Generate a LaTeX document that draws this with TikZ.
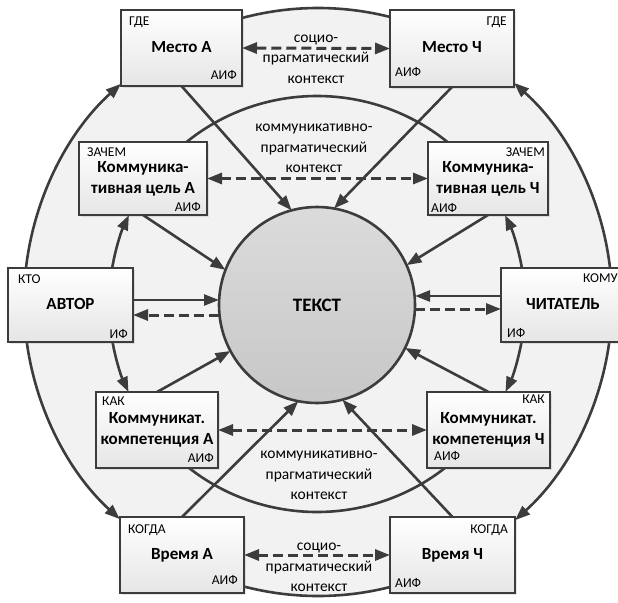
\documentclass[tikz,border=0pt]{standalone}
\usepackage{fontspec}
\setmainfont{Carlito}
\usetikzlibrary{arrows.meta,shadows}
\definecolor{dg}{HTML}{3C3C3C}
\begin{document}
\begin{tikzpicture}[x=1pt,y=1pt,
  box/.style={draw=dg, line width=2.8pt, rectangle, top color=white, bottom color=black!10,
    inner sep=0pt, outer sep=0pt, font=\fontsize{17}{21}\selectfont\bfseries, align=center,
    drop shadow={opacity=0.2, shadow xshift=1.5pt, shadow yshift=-1.5pt}},
  small/.style={font=\fontsize{13.5}{15}\selectfont, inner sep=0pt},
  ctx/.style={font=\fontsize{15.5}{20.5}\selectfont, align=center, inner sep=0pt, anchor=north},
  ring/.style={draw=dg, line width=2.6pt},
  arr/.style={draw=dg, line width=2.6pt, -{Triangle[length=15pt,width=11pt]}},
  darr/.style={draw=dg, line width=3pt, dash pattern=on 10pt off 5pt,
    {Triangle[length=15pt,width=11pt]}-{Triangle[length=15pt,width=11pt]}},
  dsarr/.style={draw=dg, line width=3pt, dash pattern=on 10pt off 5pt,
    -{Triangle[length=15pt,width=11pt]}},
]
\useasboundingbox (0,0) rectangle (618,-602);
% rings
\node[circle, fill=black!5, minimum size=588pt, inner sep=0pt, outer sep=0pt] (outer) at (318,-302) {};
\node[circle, minimum size=416pt, inner sep=0pt, outer sep=0pt] (mid) at (317,-304) {};

% outer ring arcs
\draw[ring] ([shift={(106:294pt)}]outer.center) arc[start angle=106, end angle=74, radius=294pt];
\draw[ring] ([shift={(254:294pt)}]outer.center) arc[start angle=254, end angle=286, radius=294pt];
\draw[arr] ([shift={(174:294pt)}]outer.center) arc[start angle=174, end angle=132.1, radius=294pt];
\draw[arr] ([shift={(186.5:294pt)}]outer.center) arc[start angle=186.5, end angle=227.6, radius=294pt];
\draw[arr] ([shift={(6:294pt)}]outer.center) arc[start angle=6, end angle=48.2, radius=294pt];
\draw[arr] ([shift={(-6:294pt)}]outer.center) arc[start angle=-6, end angle=-47.9, radius=294pt];

% middle ring arcs
\draw[ring] ([shift={(130:208pt)}]mid.center) arc[start angle=130, end angle=50, radius=208pt];
\draw[ring] ([shift={(230:208pt)}]mid.center) arc[start angle=230, end angle=310, radius=208pt];
\draw[arr] ([shift={(171:208pt)}]mid.center) arc[start angle=171, end angle=154.7, radius=208pt];
\draw[arr] ([shift={(189.5:208pt)}]mid.center) arc[start angle=189.5, end angle=205, radius=208pt];
\draw[arr] ([shift={(9:208pt)}]mid.center) arc[start angle=9, end angle=25.3, radius=208pt];
\draw[arr] ([shift={(-9:208pt)}]mid.center) arc[start angle=-9, end angle=-25, radius=208pt];

% boxes
\node[box, minimum width=121pt, minimum height=76pt] (mestoA) at (181.5,-48) {\strut Место А};
\node[box, minimum width=124pt, minimum height=77pt] (mestoCh) at (452,-48.5) {\strut Место Ч};
\node[box, minimum width=128pt, minimum height=73pt] (celA) at (143,-178.5) {\strut Коммуника-\\\strut тивная цель А};
\node[box, minimum width=120pt, minimum height=73pt] (celCh) at (488,-178.5) {\strut Коммуника-\\\strut тивная цель Ч};
\node[box, minimum width=125pt, minimum height=74pt] (avtor) at (70.5,-305) {\strut АВТОР};
\node[box, minimum width=124pt, minimum height=74pt] (chit) at (563,-305) {\strut ЧИТАТЕЛЬ};
\node[box, minimum width=122pt, minimum height=76pt] (kompA) at (157,-430) {\strut Коммуникат.\\\strut компетенция А};
\node[box, minimum width=123pt, minimum height=76pt] (kompCh) at (488.5,-430) {\strut Коммуникат.\\\strut компетенция Ч};
\node[box, minimum width=124pt, minimum height=76pt] (vremA) at (182,-555) {\strut Время А};
\node[box, minimum width=125pt, minimum height=76pt] (vremCh) at (452.5,-555) {\strut Время Ч};

% small labels
\node[small, anchor=base west] (qmA) at ([shift={(8,-15.5)}]mestoA.north west) {ГДЕ};
\node[small, anchor=base east] (smA) at ([shift={(-5,7)}]mestoA.south east) {АИФ};
\node[small, anchor=base west] (qcA) at ([shift={(8,-14.5)}]celA.north west) {ЗАЧЕМ};
\node[small, anchor=base east] (scA) at ([shift={(-6,3.5)}]celA.south east) {АИФ};
\node[small, anchor=base west] (qav) at ([shift={(10,-15)}]avtor.north west) {КТО};
\node[small, anchor=base east] (sav) at ([shift={(-5,3.5)}]avtor.south east) {ИФ};
\node[small, anchor=base west] (qkA) at ([shift={(6,-13)}]kompA.north west) {КАК};
\node[small, anchor=base east] (skA) at ([shift={(-4,5.5)}]kompA.south east) {АИФ};
\node[small, anchor=base west] (qvA) at ([shift={(8,-16)}]vremA.north west) {КОГДА};
\node[small, anchor=base east] (svA) at ([shift={(-6,8.5)}]vremA.south east) {АИФ};
\node[small, anchor=base east] (qmC) at ([shift={(-7,-16)}]mestoCh.north east) {ГДЕ};
\node[small, anchor=base west] (smC) at ([shift={(5,10)}]mestoCh.south west) {АИФ};
\node[small, anchor=base east] (qcC) at ([shift={(-3,-14.5)}]celCh.north east) {ЗАЧЕМ};
\node[small, anchor=base west] (scC) at ([shift={(3,2.5)}]celCh.south west) {АИФ};
\node[small, anchor=base west] (qch) at ([shift={(82,-14.5)}]chit.north west) {КОМУ};
\node[small, anchor=base west] (sch) at ([shift={(6,5)}]chit.south west) {ИФ};
\node[small, anchor=base east] (qkC) at ([shift={(-5,-11)}]kompCh.north east) {КАК};
\node[small, anchor=base west] (skC) at ([shift={(7,8)}]kompCh.south west) {АИФ};
\node[small, anchor=base east] (qvC) at ([shift={(-7,-16)}]vremCh.north east) {КОГДА};
\node[small, anchor=base west] (svC) at ([shift={(5,5.5)}]vremCh.south west) {АИФ};

% text circle
\node[circle, draw=dg, line width=2.6pt, top color=black!14, bottom color=black!22,
  minimum size=196pt, inner sep=0pt, outer sep=0pt,
  font=\fontsize{19}{21}\selectfont\bfseries] (tekst) at (317,-305) {ТЕКСТ};

% context labels
\node[ctx] (ctx1) at (316,-27.5) {\strut социо-\\прагматический\\контекст};
\node[ctx] (ctx2) at (314,-117) {\strut коммуникативно-\\прагматический\\контекст};
\node[ctx] (ctx3) at (319,-444) {\strut коммуникативно-\\прагматический\\контекст};
\node[ctx] (ctx4) at (319,-536) {\strut социо-\\прагматический\\контекст};

% arrows to text
\draw[arr] (mestoA.south) -- (tekst.105);
\draw[arr] (mestoCh.south) -- (tekst.80);
\draw[arr] (celA.south) -- (tekst.159);
\draw[arr] (celCh.south) -- (tekst.24);
\draw[arr] (kompA.north) -- (tekst.208);
\draw[arr] (kompCh.north) -- (tekst.334);
\draw[arr] (vremA.north) -- (tekst.259);
\draw[arr] (vremCh.north) -- (tekst.285);
\draw[arr] ([yshift=5pt]avtor.east) -- ([yshift=5pt]tekst.west);
\draw[dsarr] ([yshift=-10pt]tekst.west) -- ([yshift=-10pt]avtor.east);
\draw[arr] ([yshift=9pt]chit.west) -- ([yshift=9pt]tekst.east);
\draw[dsarr] ([yshift=-4pt]tekst.east) -- ([yshift=-4pt]chit.west);

% dashed double arrows
\draw[darr] (mestoA.east) -- (mestoCh.west);
\draw[darr] (celA.east) -- (celCh.west);
\draw[darr] (kompA.east) -- (kompCh.west);
\draw[darr] (vremA.east) -- (vremCh.west);
\end{tikzpicture}
\end{document}
